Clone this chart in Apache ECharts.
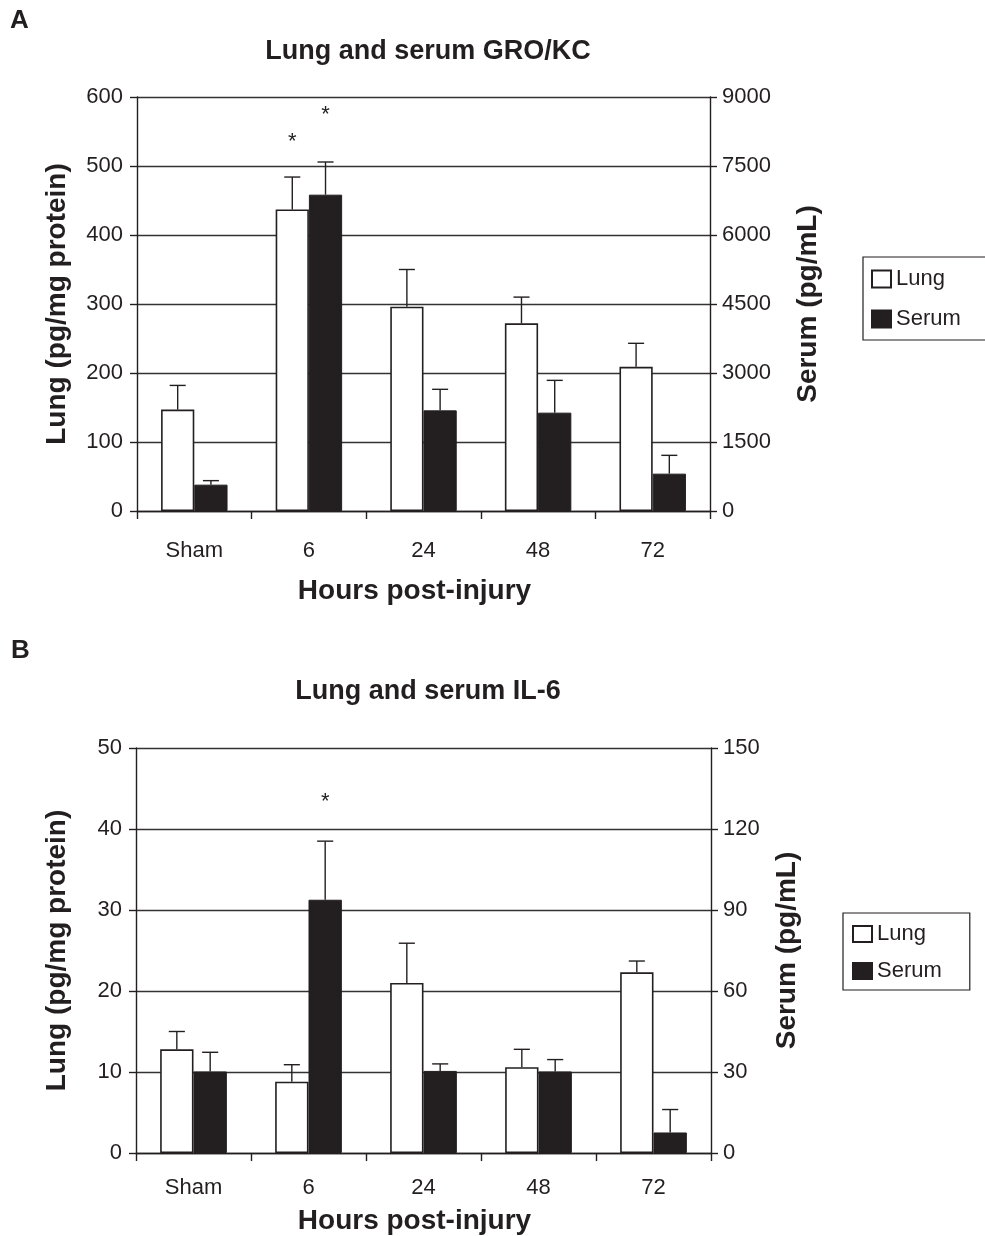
<!DOCTYPE html>
<html>
<head>
<meta charset="utf-8">
<script src="https://cdn.jsdelivr.net/npm/echarts@6/dist/echarts.min.js"></script>
<style>
html,body{margin:0;padding:0;background:#fff;}
#chart{width:985px;height:1236px;}
</style>
</head>
<body>
<div id="chart"></div>
<script>
// ---- Data ----
const categories = ['Sham', '6', '24', '48', '72'];

// Panel A: GRO/KC
const groLung = [147, 437, 296, 272, 209];          // pg/mg protein (left axis)
const groLungUpper = [182, 484, 350, 310, 243];     // mean + error
const groSerum = [573, 6877, 2188, 2138, 812];      // pg/mL (right axis)
const groSerumUpper = [660, 7587, 2645, 2840, 1210];
const groStarsLung = [[1, 535]];                    // left-axis units
const groStarsSerum = [[1, 8610]];                  // right-axis units

// Panel B: IL-6
const il6Lung = [12.8, 8.8, 21.0, 10.6, 22.3];
const il6LungUpper = [15.0, 10.9, 25.9, 12.8, 23.7];
const il6Serum = [30.2, 93.8, 30.4, 30.2, 7.6];
const il6SerumUpper = [37.3, 115.5, 33.0, 34.6, 16.1];
const il6StarsSerum = [[1, 130]];

// Axis ticks
const groLeftMax = 600, groLeftStep = 100;
const groRightMax = 9000, groRightStep = 1500;
const il6LeftMax = 50, il6LeftStep = 10;
const il6RightMax = 150, il6RightStep = 30;

// ---- Styling ----
const INK = '#231f20';
const FONT = '"Liberation Sans", Arial, sans-serif';
const GAP = 0.42;                 // barCategoryGap fraction
const OFF = (1 - GAP) / 4;        // centre offset of each bar in band units

function errData(means, uppers) {
  return means.map((m, i) => [i, m, uppers[i]]);
}
function errRender(offsetFrac) {
  return function (params, api) {
    const i = api.value(0);
    const base = api.coord([i, api.value(1)]);
    const top = api.coord([i, api.value(2)]);
    const bw = api.size([1, 0])[0];
    const x = base[0] + offsetFrac * bw;
    const cap = bw * 0.07;
    const st = { stroke: INK, lineWidth: 1.4 };
    return {
      type: 'group',
      children: [
        { type: 'line', shape: { x1: x, y1: base[1], x2: x, y2: top[1] }, style: st },
        { type: 'line', shape: { x1: x - cap, y1: top[1], x2: x + cap, y2: top[1] }, style: st }
      ]
    };
  };
}
function starRender(offsetFrac) {
  return function (params, api) {
    const i = api.value(0);
    const p = api.coord([i, api.value(1)]);
    const bw = api.size([1, 0])[0];
    return {
      type: 'text',
      x: p[0] + offsetFrac * bw,
      y: p[1],
      style: { text: '*', fill: INK, font: '22px ' + FONT, align: 'center', verticalAlign: 'middle' }
    };
  };
}

function xAxisDef(gridIndex, labelMargin, nameGap) {
  return {
    type: 'category', gridIndex, data: categories,
    name: 'Hours post-injury', nameLocation: 'middle', nameGap,
    nameTextStyle: { fontFamily: FONT, fontWeight: 'bold', fontSize: 28, color: INK,
                     padding: [0, 18, 0, 0] },
    axisLine: { lineStyle: { color: INK, width: 1.4 } },
    axisTick: { show: true, length: 8, lineStyle: { color: INK, width: 1.4 } },
    axisLabel: { fontFamily: FONT, fontSize: 22, color: INK, margin: labelMargin },
    splitLine: { show: false }
  };
}
function yAxisDef(gridIndex, pos, max, step, name, nameGap, showSplit, labelMargin) {
  return {
    type: 'value', gridIndex, position: pos, min: 0, max, interval: step,
    name, nameLocation: 'middle', nameGap, nameRotate: 90,
    nameTextStyle: { fontFamily: FONT, fontWeight: 'bold', fontSize: 28, color: INK },
    axisLine: { show: true, lineStyle: { color: INK, width: 1.4 } },
    axisTick: { show: true, length: 7, lineStyle: { color: INK, width: 1.4 } },
    axisLabel: { fontFamily: FONT, fontSize: 22, color: INK, margin: labelMargin,
                 formatter: v => String(v) },
    splitLine: { show: showSplit, lineStyle: { color: '#333', width: 1.4 } }
  };
}

const lungStyle = { color: '#ffffff', borderColor: INK, borderWidth: 1.6 };
const serumStyle = { color: INK, borderColor: INK, borderWidth: 1 };
const barCommon = { type: 'bar', barCategoryGap: (GAP * 100) + '%', barGap: '0%' };
const legendText = { fontFamily: FONT, fontSize: 22, color: INK };

const chart = echarts.init(document.getElementById('chart'), null, { renderer: 'canvas' });
chart.setOption({
  animation: false,
  backgroundColor: '#ffffff',
  title: [
    { text: 'Lung and serum GRO/KC', left: 423, top: 33, textAlign: 'center',
      textStyle: { fontFamily: FONT, fontWeight: 'bold', fontSize: 27, color: INK } },
    { text: 'Lung and serum IL-6', left: 423, top: 673, textAlign: 'center',
      textStyle: { fontFamily: FONT, fontWeight: 'bold', fontSize: 27, color: INK } }
  ],
  graphic: [
    { type: 'text', left: 10, top: 8, style: { text: 'A', font: 'bold 26px ' + FONT, fill: INK } },
    { type: 'text', left: 11, top: 638, style: { text: 'B', font: 'bold 26px ' + FONT, fill: INK } }
  ],
  legend: [
    { orient: 'vertical', left: 863, top: 257, data: ['Lung', 'Serum'],
      icon: 'rect', itemWidth: 19, itemHeight: 17, itemGap: 18, itemTextGap: 9,
      padding: [11, 30, 10, 8], borderColor: INK, borderWidth: 1.2,
      textStyle: legendText },
    { orient: 'vertical', left: 843, top: 913, data: ['Lung', 'Serum'],
      icon: 'rect', itemWidth: 19, itemHeight: 16, itemGap: 15, itemTextGap: 6,
      padding: [10, 28, 8, 9], borderColor: INK, borderWidth: 1.2,
      textStyle: legendText }
  ],
  grid: [
    { left: 137, top: 97, width: 573, height: 414 },
    { left: 136, top: 748, width: 575, height: 405 }
  ],
  xAxis: [xAxisDef(0, 29, 66), xAxisDef(1, 24, 54)],
  yAxis: [
    yAxisDef(0, 'left', groLeftMax, groLeftStep, 'Lung (pg/mg protein)', 66, true, 14),
    yAxisDef(0, 'right', groRightMax, groRightStep, 'Serum (pg/mL)', 84, false, 12),
    yAxisDef(1, 'left', il6LeftMax, il6LeftStep, 'Lung (pg/mg protein)', 65, true, 14),
    yAxisDef(1, 'right', il6RightMax, il6RightStep, 'Serum (pg/mL)', 62, false, 12)
  ],
  series: [
    Object.assign({ name: 'Lung', xAxisIndex: 0, yAxisIndex: 0, data: groLung, itemStyle: lungStyle }, barCommon),
    Object.assign({ name: 'Serum', xAxisIndex: 0, yAxisIndex: 1, data: groSerum, itemStyle: serumStyle }, barCommon),
    { name: 'LungErrA', type: 'custom', xAxisIndex: 0, yAxisIndex: 0,
      data: errData(groLung, groLungUpper), renderItem: errRender(-OFF),
      encode: { x: 0, y: [1, 2] }, z: 3, silent: true },
    { name: 'SerumErrA', type: 'custom', xAxisIndex: 0, yAxisIndex: 1,
      data: errData(groSerum, groSerumUpper), renderItem: errRender(OFF),
      encode: { x: 0, y: [1, 2] }, z: 3, silent: true },
    { name: 'StarsLungA', type: 'custom', xAxisIndex: 0, yAxisIndex: 0,
      data: groStarsLung, renderItem: starRender(-OFF), encode: { x: 0, y: 1 }, z: 4, silent: true },
    { name: 'StarsSerumA', type: 'custom', xAxisIndex: 0, yAxisIndex: 1,
      data: groStarsSerum, renderItem: starRender(OFF), encode: { x: 0, y: 1 }, z: 4, silent: true },

    Object.assign({ name: 'Lung', xAxisIndex: 1, yAxisIndex: 2, data: il6Lung, itemStyle: lungStyle }, barCommon),
    Object.assign({ name: 'Serum', xAxisIndex: 1, yAxisIndex: 3, data: il6Serum, itemStyle: serumStyle }, barCommon),
    { name: 'LungErrB', type: 'custom', xAxisIndex: 1, yAxisIndex: 2,
      data: errData(il6Lung, il6LungUpper), renderItem: errRender(-OFF),
      encode: { x: 0, y: [1, 2] }, z: 3, silent: true },
    { name: 'SerumErrB', type: 'custom', xAxisIndex: 1, yAxisIndex: 3,
      data: errData(il6Serum, il6SerumUpper), renderItem: errRender(OFF),
      encode: { x: 0, y: [1, 2] }, z: 3, silent: true },
    { name: 'StarsSerumB', type: 'custom', xAxisIndex: 1, yAxisIndex: 3,
      data: il6StarsSerum, renderItem: starRender(OFF), encode: { x: 0, y: 1 }, z: 4, silent: true }
  ]
});
</script>
</body>
</html>
